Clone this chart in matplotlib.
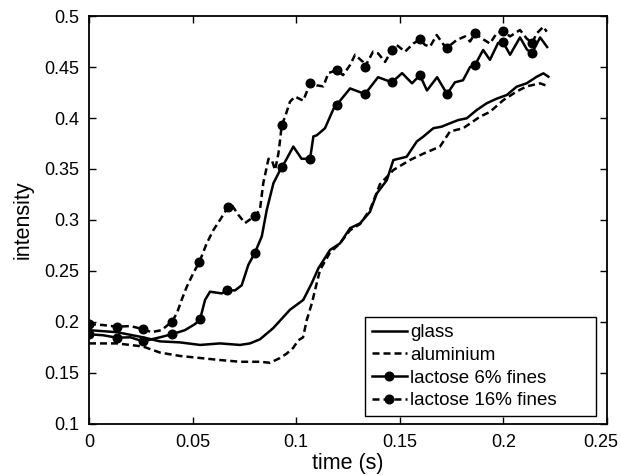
import matplotlib
matplotlib.use("Agg")
import matplotlib.pyplot as plt
import matplotlib.transforms as mtransforms
from matplotlib.lines import Line2D

# ---- data ----
glass_t = [0, 0.0135, 0.026, 0.0343, 0.0439, 0.0536, 0.0632, 0.0729, 0.0777, 0.0825,
           0.0889, 0.097, 0.1034, 0.1075, 0.1107, 0.1163, 0.1211, 0.126, 0.1308, 0.1356,
           0.1389, 0.1437, 0.1469, 0.1533, 0.1582, 0.1613, 0.1662, 0.1702, 0.1742, 0.1782,
           0.1823, 0.1871, 0.1919, 0.1968, 0.2016, 0.2064, 0.2112, 0.2161, 0.2193, 0.2217]
glass_v = [0.192, 0.190, 0.185, 0.181, 0.180, 0.1775, 0.179, 0.1775, 0.179, 0.183,
           0.194, 0.212, 0.2216, 0.238, 0.2526, 0.2706, 0.277, 0.292, 0.2967, 0.308,
           0.326, 0.339, 0.3588, 0.362, 0.377, 0.3817, 0.390, 0.3915, 0.3948, 0.398,
           0.3997, 0.4078, 0.4144, 0.419, 0.4225, 0.4307, 0.434, 0.4405, 0.4438, 0.4405]

alu_t = [0, 0.0135, 0.026, 0.0343, 0.0439, 0.0536, 0.0632, 0.0729, 0.0825, 0.0874,
         0.0922, 0.0954, 0.0985, 0.101, 0.1033, 0.1051, 0.1075, 0.1099, 0.1115, 0.1163,
         0.1211, 0.126, 0.1308, 0.1356, 0.1404, 0.1469, 0.1549, 0.1613, 0.1694, 0.1742,
         0.1806, 0.1887, 0.1935, 0.2, 0.2064, 0.2112, 0.2177, 0.2217]
alu_v = [0.179, 0.179, 0.176, 0.170, 0.1667, 0.1647, 0.1627, 0.161, 0.161, 0.160,
         0.1647, 0.169, 0.1745, 0.182, 0.185, 0.202, 0.218, 0.238, 0.251, 0.268,
         0.277, 0.290, 0.296, 0.310, 0.335, 0.349, 0.3588, 0.365, 0.372, 0.3868,
         0.390, 0.4013, 0.406, 0.4176, 0.426, 0.431, 0.434, 0.431]

lac6_t = [0, 0.0068, 0.0135, 0.02, 0.026, 0.0343, 0.04, 0.0463, 0.0512, 0.0536,
          0.056, 0.0584, 0.0641, 0.0665, 0.0705, 0.0737, 0.0769, 0.0801, 0.0834, 0.0858,
          0.089, 0.093, 0.0946, 0.0986, 0.1026, 0.1067, 0.1083, 0.1099, 0.1139, 0.118,
          0.1196, 0.126, 0.1332, 0.1395, 0.1462, 0.1511, 0.1559, 0.1597, 0.1631, 0.168,
          0.1728, 0.1766, 0.1805, 0.1839, 0.1863, 0.1902, 0.1935, 0.1974, 0.1998, 0.2032,
          0.208, 0.2114, 0.2138, 0.2177, 0.2211]
lac6_v = [0.188, 0.187, 0.1846, 0.185, 0.181, 0.185, 0.188, 0.192, 0.198, 0.2026,
          0.2216, 0.2297, 0.228, 0.231, 0.231, 0.236, 0.256, 0.268, 0.284, 0.310,
          0.336, 0.352, 0.357, 0.372, 0.360, 0.360, 0.382, 0.383, 0.390, 0.409,
          0.413, 0.429, 0.4235, 0.440, 0.435, 0.444, 0.434, 0.442, 0.427, 0.440,
          0.4235, 0.435, 0.437, 0.450, 0.452, 0.4667, 0.457, 0.4735, 0.4745, 0.462,
          0.479, 0.467, 0.4637, 0.479, 0.4696]
lac6_mark_t = [0, 0.0135, 0.026, 0.04, 0.0536, 0.0665, 0.0801, 0.093, 0.1067, 0.1196,
               0.1332, 0.1462, 0.1597, 0.1728, 0.1863, 0.1998, 0.2138]
lac6_mark_v = [0.188, 0.1846, 0.181, 0.188, 0.2026, 0.231, 0.268, 0.352, 0.360, 0.413,
               0.4235, 0.435, 0.442, 0.4235, 0.452, 0.4745, 0.4637]

lac16_t = [0, 0.0068, 0.0135, 0.02, 0.026, 0.0302, 0.035, 0.04, 0.0424, 0.0447,
           0.0472, 0.0503, 0.0533, 0.0568, 0.06, 0.0632, 0.0672, 0.0689, 0.0721, 0.0753,
           0.0801, 0.0825, 0.0841, 0.0858, 0.0866, 0.0882, 0.0898, 0.0914, 0.0922, 0.093,
           0.0946, 0.097, 0.0994, 0.1034, 0.1067, 0.1099, 0.1131, 0.1155, 0.1196, 0.1226,
           0.126, 0.1284, 0.1322, 0.1332, 0.1371, 0.1395, 0.1429, 0.1462, 0.1485, 0.1525,
           0.1565, 0.1597, 0.1622, 0.1646, 0.1678, 0.1718, 0.1728, 0.1775, 0.1815, 0.1839,
           0.1863, 0.1896, 0.1935, 0.1967, 0.1998, 0.2032, 0.208, 0.2112, 0.2138, 0.2161,
           0.2193, 0.2209]
lac16_v = [0.198, 0.197, 0.1954, 0.196, 0.193, 0.190, 0.192, 0.2003, 0.2085, 0.2216,
           0.2346, 0.2477, 0.259, 0.277, 0.290, 0.300, 0.313, 0.3147, 0.305, 0.297,
           0.304, 0.310, 0.336, 0.352, 0.360, 0.359, 0.349, 0.365, 0.378, 0.393,
           0.401, 0.416, 0.421, 0.417, 0.434, 0.432, 0.431, 0.444, 0.447, 0.442,
           0.452, 0.462, 0.455, 0.4503, 0.465, 0.4634, 0.455, 0.4667, 0.4716, 0.465,
           0.473, 0.477, 0.4716, 0.470, 0.4814, 0.470, 0.469, 0.4765, 0.480, 0.475,
           0.483, 0.478, 0.473, 0.483, 0.4853, 0.480, 0.4863, 0.478, 0.4735, 0.483,
           0.4895, 0.4846]
lac16_mark_t = [0, 0.0135, 0.026, 0.04, 0.0533, 0.0672, 0.0801, 0.093, 0.1067, 0.1196,
                0.1332, 0.1462, 0.1597, 0.1728, 0.1863, 0.1998, 0.2138]
lac16_mark_v = [0.198, 0.1954, 0.193, 0.2003, 0.259, 0.313, 0.304, 0.393, 0.434, 0.447,
                0.4503, 0.4667, 0.477, 0.469, 0.483, 0.4853, 0.4735]

labels = ["glass", "aluminium", "lactose 6% fines", "lactose 16% fines"]
x_ticks = [0, 0.05, 0.1, 0.15, 0.2, 0.25]
x_ticklabels = ["0", "0.05", "0.1", "0.15", "0.2", "0.25"]
y_ticks = [0.1, 0.15, 0.2, 0.25, 0.3, 0.35, 0.4, 0.45, 0.5]
y_ticklabels = ["0.1", "0.15", "0.2", "0.25", "0.3", "0.35", "0.4", "0.45", "0.5"]

# ---- style ----
plt.rcParams['font.family'] = ['Liberation Sans', 'DejaVu Sans']

fig = plt.figure(figsize=(6.21, 4.75), dpi=100)
ax = fig.add_axes([0.1433, 0.1074, 0.8342, 0.8589])

lw = 1.8
dash = (0, (2.8, 1.6))
ms = 6.2

ax.plot(glass_t, glass_v, color='black', lw=lw, ls='-')
ax.plot(alu_t, alu_v, color='black', lw=lw, ls=dash)
ax.plot(lac6_t, lac6_v, color='black', lw=lw, ls='-')
ax.plot(lac6_mark_t, lac6_mark_v, color='black', ls='none', marker='o', ms=ms)
ax.plot(lac16_t, lac16_v, color='black', lw=lw, ls=dash)
ax.plot(lac16_mark_t, lac16_mark_v, color='black', ls='none', marker='o', ms=ms)

ax.set_xlim(0, 0.25)
ax.set_ylim(0.1, 0.5)
ax.set_xticks(x_ticks)
ax.set_xticklabels(x_ticklabels)
ax.set_yticks(y_ticks)
ax.set_yticklabels(y_ticklabels)
ax.tick_params(direction='in', length=5, width=1, top=True, right=True, labelsize=13, pad=7)
for s in ax.spines.values():
    s.set_linewidth(1.3)

# shift last x tick label slightly left so it stays inside the figure
last = ax.get_xticklabels()[-1]
last.set_transform(last.get_transform() + mtransforms.ScaledTranslation(-6 / 100, 0, fig.dpi_scale_trans))

ax.set_xlabel("time (s)", fontsize=15.5)
ax.set_ylabel("intensity", fontsize=15.5)
ax.xaxis.set_label_coords(0.5, -0.07)
ax.yaxis.set_label_coords(-0.106, 0.5)

handles = [
    Line2D([], [], color='black', lw=lw, ls='-'),
    Line2D([], [], color='black', lw=lw, ls=dash),
    Line2D([], [], color='black', lw=lw, ls='-', marker='o', ms=ms),
    Line2D([], [], color='black', lw=lw, ls=dash, marker='o', ms=ms),
]
leg = ax.legend(handles, labels, loc='lower left', bbox_to_anchor=(0.533, 0.0196, 0.446, 0.28),
                mode='expand', fancybox=False, framealpha=1,
                edgecolor='black', handlelength=1.87, handletextpad=0.18,
                labelspacing=0.3, borderaxespad=0, fontsize=13.5, borderpad=0.35)
leg.get_frame().set_linewidth(1.0)

fig.savefig("out.png", dpi=100)
